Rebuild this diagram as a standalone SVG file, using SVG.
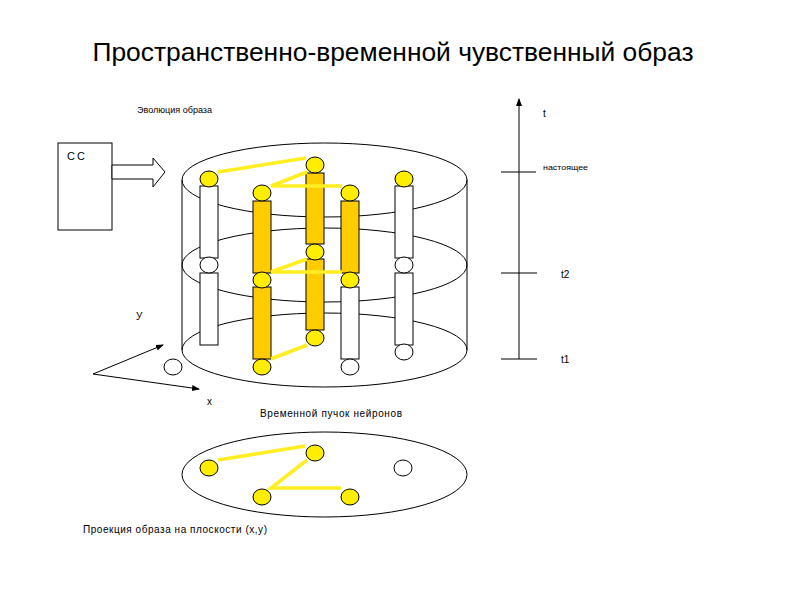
<svg xmlns="http://www.w3.org/2000/svg" width="800" height="600" viewBox="0 0 800 600">
<defs>
<marker id="ah" markerWidth="8" markerHeight="6" refX="7" refY="3" orient="auto" markerUnits="userSpaceOnUse">
<path d="M0,0 L8,3 L0,6 Z" fill="#000"/>
</marker>
<style>
text{font-family:"Liberation Sans",Arial,sans-serif;fill:#000}
.ln{fill:none;stroke:#000;stroke-width:1}
.w{fill:#fff;stroke:#000;stroke-width:1}
.o{fill:#FFCC00;stroke:#000;stroke-width:1}
.y{fill:#FFEE00;stroke:#000;stroke-width:1}
.yl{fill:none;stroke:#FFEE22;stroke-width:3.5;stroke-linejoin:miter}
</style>
</defs>
<rect width="800" height="600" fill="#fff"/>
<text x="393" y="61" font-size="26" text-anchor="middle" textLength="601" lengthAdjust="spacingAndGlyphs">Пространственно-временной чувственный образ</text>

<g id="evolution-label"><text x="137" y="113" font-size="8.5" textLength="75" lengthAdjust="spacingAndGlyphs">Эволюция образа</text></g>

<g id="cc">
<rect x="58" y="143" width="54" height="87" class="w"/>
<text x="67" y="160" font-size="11" letter-spacing="2">СС</text>
<polygon points="112,165 153,165 153,158 165,172 153,187 153,179 112,179" class="w"/>
</g>

<g id="cylinder">
<ellipse cx="324.5" cy="350" rx="142.5" ry="37" class="ln"/>
<ellipse cx="324.5" cy="265" rx="142.5" ry="37" class="ln"/>
<ellipse cx="324.5" cy="180" rx="142.5" ry="37" class="ln"/>
<line x1="182" y1="180" x2="182" y2="350" class="ln"/>
<line x1="467" y1="180" x2="467" y2="350" class="ln"/>
</g>

<g id="col-a">
<rect x="200" y="186" width="18" height="72" class="w"/>
<rect x="200" y="273" width="18" height="72" class="w"/>
<ellipse cx="209" cy="179" rx="9" ry="8" class="y"/>
<ellipse cx="209" cy="265" rx="9" ry="8" class="w"/>
<ellipse cx="173" cy="367" rx="9" ry="8" class="w"/>
</g>
<g id="col-b">
<rect x="253" y="201" width="18" height="72" class="o"/>
<rect x="253" y="287" width="18" height="72" class="o"/>
<ellipse cx="262" cy="193" rx="9" ry="8" class="y"/>
<ellipse cx="262" cy="280" rx="9" ry="8" class="y"/>
<ellipse cx="262" cy="367" rx="9" ry="8" class="y"/>
</g>
<g id="col-c">
<rect x="306" y="173" width="18" height="71" class="o"/>
<rect x="306" y="259" width="18" height="71" class="o"/>
<ellipse cx="315" cy="165" rx="9" ry="8" class="y"/>
<ellipse cx="315" cy="252" rx="9" ry="8" class="y"/>
<ellipse cx="315" cy="338" rx="9" ry="8" class="y"/>
</g>
<g id="col-d">
<rect x="341" y="201" width="18" height="72" class="o"/>
<rect x="341" y="287" width="18" height="72" class="w"/>
<ellipse cx="350" cy="193" rx="9" ry="8" class="y"/>
<ellipse cx="350" cy="280" rx="9" ry="8" class="y"/>
<ellipse cx="350" cy="367" rx="9" ry="8" class="w"/>
</g>
<g id="col-e">
<rect x="395" y="186" width="18" height="72" class="w"/>
<rect x="395" y="273" width="18" height="72" class="w"/>
<ellipse cx="404" cy="179" rx="9" ry="8" class="y"/>
<ellipse cx="404" cy="265" rx="9" ry="8" class="w"/>
<ellipse cx="404" cy="352" rx="9" ry="8" class="w"/>
</g>

<g id="connectors">
<polyline points="218,172 306,158" class="yl"/>
<polyline points="307,172 271,186 342,186" class="yl"/>
<polyline points="307,259 271,272 342,272" class="yl"/>
<polyline points="307,345 271,359" class="yl"/>
<polyline points="218,460 305,446" class="yl"/>
<polyline points="307,460 271,488 341,488" class="yl"/>
<line x1="93" y1="374" x2="163" y2="345" class="ln" marker-end="url(#ah)"/>
<line x1="93" y1="374" x2="199" y2="389" class="ln" marker-end="url(#ah)"/>
<line x1="519" y1="359" x2="519" y2="99" class="ln" marker-end="url(#ah)"/>
<line x1="501" y1="172" x2="536" y2="172" class="ln"/>
<line x1="501" y1="273" x2="537" y2="273" class="ln"/>
<line x1="501" y1="359" x2="537" y2="359" class="ln"/>
</g>

<text x="136" y="320" font-size="10">У</text>
<text x="207" y="405" font-size="10">x</text>
<text x="543" y="117" font-size="10">t</text>
<text x="543" y="170" font-size="7.5" textLength="45" lengthAdjust="spacingAndGlyphs">настоящее</text>
<text x="561" y="278" font-size="10">t2</text>
<text x="561" y="363" font-size="10">t1</text>

<g id="projection">
<ellipse cx="324.5" cy="474.5" rx="142.5" ry="42.5" class="ln"/>
<ellipse cx="209" cy="468" rx="9" ry="8" class="y"/>
<ellipse cx="315" cy="453" rx="9" ry="8" class="y"/>
<ellipse cx="262" cy="497" rx="9" ry="8" class="y"/>
<ellipse cx="350" cy="497" rx="9" ry="8" class="y"/>
<ellipse cx="403" cy="468" rx="9" ry="8" class="w"/>
</g>
<text x="260" y="417" font-size="10" textLength="142">Временной пучок нейронов</text>
<text x="83" y="533" font-size="10" textLength="184">Проекция образа на плоскости (x,y)</text>
</svg>
